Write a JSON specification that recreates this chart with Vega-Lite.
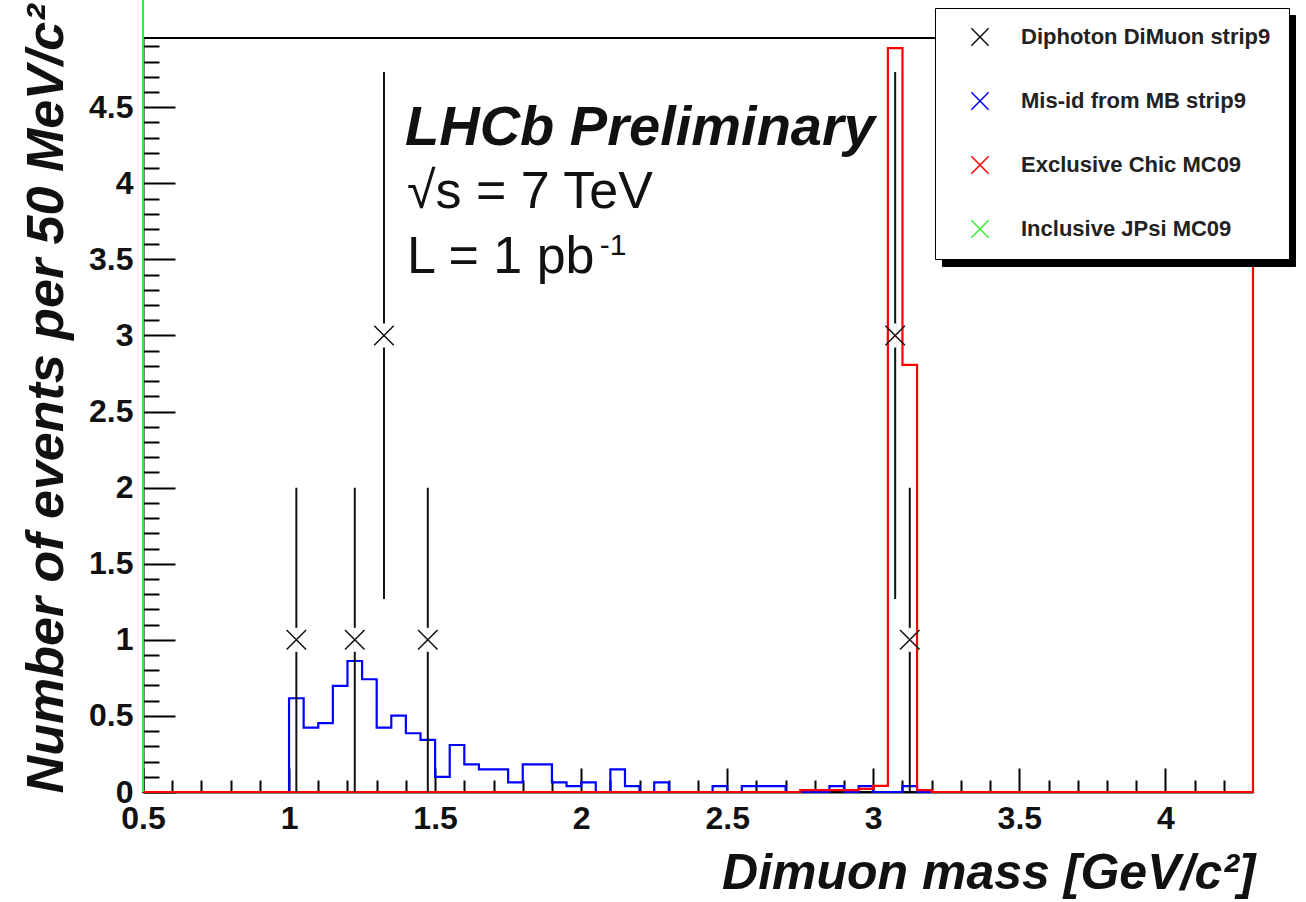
{
  "$schema": "https://vega.github.io/schema/vega-lite/v6.json",
  "width": 1110,
  "height": 754,
  "autosize": {"type": "none"},
  "padding": {"left": 143, "top": 38, "right": 53, "bottom": 110},
  "background": "white",
  "config": {
    "view": {"stroke": "black", "strokeWidth": 2},
    "axis": {
      "tickWidth": 2,
      "tickColor": "black",
      "labelFont": "Liberation Sans Narrow, Liberation Sans",
      "labelFontWeight": "bold",
      "labelFontSize": 32,
      "labelColor": "#111",
      "labelOverlap": false,
      "labelFlush": false,
      "labelBound": false,
      "domainColor": "black",
      "domainWidth": 2,
      "grid": false,
      "titleFont": "Liberation Sans",
      "titleFontWeight": "bold",
      "titleFontStyle": "italic",
      "titleColor": "#111",
      "titleAlign": "right",
      "titleBaseline": "alphabetic"
    },
    "axisX": {
      "labelPadding": 35,
      "labelBaseline": "top",
      "titleFontSize": 50,
      "titleX": 1112,
      "titleY": 96
    },
    "axisY": {
      "labelPadding": 42,
      "titleFontSize": 52,
      "titleAngle": -90,
      "titleX": -81,
      "titleY": -34
    }
  },
  "datasets": {
    "hist": [
      {"series": "Mis-id from MB strip9", "x": 0.5, "y": 0},
      {"series": "Mis-id from MB strip9", "x": 1.0, "y": 0.616},
      {"series": "Mis-id from MB strip9", "x": 1.05, "y": 0.423},
      {"series": "Mis-id from MB strip9", "x": 1.1, "y": 0.452},
      {"series": "Mis-id from MB strip9", "x": 1.15, "y": 0.697},
      {"series": "Mis-id from MB strip9", "x": 1.2, "y": 0.861},
      {"series": "Mis-id from MB strip9", "x": 1.25, "y": 0.741},
      {"series": "Mis-id from MB strip9", "x": 1.3, "y": 0.423},
      {"series": "Mis-id from MB strip9", "x": 1.35, "y": 0.502},
      {"series": "Mis-id from MB strip9", "x": 1.4, "y": 0.386},
      {"series": "Mis-id from MB strip9", "x": 1.45, "y": 0.342},
      {"series": "Mis-id from MB strip9", "x": 1.5, "y": 0.1},
      {"series": "Mis-id from MB strip9", "x": 1.55, "y": 0.309},
      {"series": "Mis-id from MB strip9", "x": 1.6, "y": 0.182},
      {"series": "Mis-id from MB strip9", "x": 1.65, "y": 0.149},
      {"series": "Mis-id from MB strip9", "x": 1.7, "y": 0.149},
      {"series": "Mis-id from MB strip9", "x": 1.75, "y": 0.063},
      {"series": "Mis-id from MB strip9", "x": 1.8, "y": 0.182},
      {"series": "Mis-id from MB strip9", "x": 1.85, "y": 0.182},
      {"series": "Mis-id from MB strip9", "x": 1.9, "y": 0.063},
      {"series": "Mis-id from MB strip9", "x": 1.95, "y": 0.038},
      {"series": "Mis-id from MB strip9", "x": 2.0, "y": 0.063},
      {"series": "Mis-id from MB strip9", "x": 2.05, "y": 0},
      {"series": "Mis-id from MB strip9", "x": 2.1, "y": 0.149},
      {"series": "Mis-id from MB strip9", "x": 2.15, "y": 0.038},
      {"series": "Mis-id from MB strip9", "x": 2.2, "y": 0},
      {"series": "Mis-id from MB strip9", "x": 2.25, "y": 0.063},
      {"series": "Mis-id from MB strip9", "x": 2.3, "y": 0},
      {"series": "Mis-id from MB strip9", "x": 2.45, "y": 0.038},
      {"series": "Mis-id from MB strip9", "x": 2.5, "y": 0},
      {"series": "Mis-id from MB strip9", "x": 2.55, "y": 0.038},
      {"series": "Mis-id from MB strip9", "x": 2.7, "y": 0},
      {"series": "Mis-id from MB strip9", "x": 2.85, "y": 0.038},
      {"series": "Mis-id from MB strip9", "x": 2.9, "y": 0},
      {"series": "Mis-id from MB strip9", "x": 2.95, "y": 0.038},
      {"series": "Mis-id from MB strip9", "x": 3.0, "y": 0},
      {"series": "Mis-id from MB strip9", "x": 3.1, "y": 0.038},
      {"series": "Mis-id from MB strip9", "x": 3.15, "y": 0},
      {"series": "Mis-id from MB strip9", "x": 4.3, "y": 0},
      {"series": "Exclusive Chic MC09", "x": 0.5, "y": 0},
      {"series": "Exclusive Chic MC09", "x": 2.75, "y": 0.012},
      {"series": "Exclusive Chic MC09", "x": 2.95, "y": 0.02},
      {"series": "Exclusive Chic MC09", "x": 3.0, "y": 0.04},
      {"series": "Exclusive Chic MC09", "x": 3.05, "y": 4.889},
      {"series": "Exclusive Chic MC09", "x": 3.1, "y": 2.807},
      {"series": "Exclusive Chic MC09", "x": 3.15, "y": 0.012},
      {"series": "Exclusive Chic MC09", "x": 3.2, "y": 0},
      {"series": "Exclusive Chic MC09", "x": 4.3, "y": 0},
      {"series": "Exclusive Chic MC09", "x": 4.3, "y": 4.955}
    ],
    "edges": [
      {"series": "Inclusive JPsi MC09", "x": 0.5, "y": 0, "y2": 5.207}
    ],
    "points": [
      {"series": "Diphoton DiMuon strip9", "x": 1.025, "y": 1, "lo": 0, "hi": 2},
      {"series": "Diphoton DiMuon strip9", "x": 1.225, "y": 1, "lo": 0, "hi": 2},
      {"series": "Diphoton DiMuon strip9", "x": 1.325, "y": 3, "lo": 1.268, "hi": 4.732},
      {"series": "Diphoton DiMuon strip9", "x": 1.475, "y": 1, "lo": 0, "hi": 2},
      {"series": "Diphoton DiMuon strip9", "x": 3.075, "y": 3, "lo": 1.268, "hi": 4.732},
      {"series": "Diphoton DiMuon strip9", "x": 3.125, "y": 1, "lo": 0, "hi": 2}
    ],
    "entries": [
      {"entry": "Diphoton DiMuon strip9"},
      {"entry": "Mis-id from MB strip9"},
      {"entry": "Exclusive Chic MC09"},
      {"entry": "Inclusive JPsi MC09"}
    ],
    "notes": [
      {"text": "LHCb Preliminary"}
    ]
  },
  "layer": [
    {
      "data": {"name": "hist"},
      "mark": {"type": "line", "interpolate": "step-after", "strokeWidth": 2.2},
      "encoding": {
        "x": {
          "field": "x", "type": "quantitative",
          "scale": {"domain": [0.5, 4.3], "nice": false, "zero": false},
          "axis": {"values": [0.5, 0.6, 0.7, 0.8, 0.9, 1, 1.1, 1.2, 1.3, 1.4, 1.5, 1.6, 1.7, 1.8, 1.9, 2, 2.1, 2.2, 2.3, 2.4, 2.5, 2.6, 2.7, 2.8, 2.9, 3, 3.1, 3.2, 3.3, 3.4, 3.5, 3.6, 3.7, 3.8, 3.9, 4, 4.1, 4.2], "tickSize": {"condition": {"test": "abs(datum.value*2 - round(datum.value*2)) < 0.001", "value": -24}, "value": -12}, "labelExpr": "abs(datum.value*2 - round(datum.value*2)) < 0.001 ? format(datum.value, '~g') : ''", "title": "Dimuon mass [GeV/c²]"}
        },
        "y": {
          "field": "y", "type": "quantitative",
          "scale": {"domain": [0, 4.955], "nice": false, "zero": false},
          "axis": {"values": [0, 0.1, 0.2, 0.3, 0.4, 0.5, 0.6, 0.7, 0.8, 0.9, 1, 1.1, 1.2, 1.3, 1.4, 1.5, 1.6, 1.7, 1.8, 1.9, 2, 2.1, 2.2, 2.3, 2.4, 2.5, 2.6, 2.7, 2.8, 2.9, 3, 3.1, 3.2, 3.3, 3.4, 3.5, 3.6, 3.7, 3.8, 3.9, 4, 4.1, 4.2, 4.3, 4.4, 4.5, 4.6, 4.7, 4.8, 4.9], "tickSize": {"condition": {"test": "abs(datum.value*2 - round(datum.value*2)) < 0.001", "value": -32}, "value": -16}, "labelExpr": "abs(datum.value*2 - round(datum.value*2)) < 0.001 ? format(datum.value, '~g') : ''", "title": "Number of events per 50 MeV/c²"}
        },
        "color": {
          "field": "series",
          "type": "nominal",
          "scale": {
            "domain": ["Diphoton DiMuon strip9", "Mis-id from MB strip9", "Exclusive Chic MC09", "Inclusive JPsi MC09"],
            "range": ["#111111", "#0000ff", "#ff0000", "#33ee33"]
          },
          "legend": {
            "orient": "none",
            "legendX": 792,
            "legendY": -30,
            "title": null,
            "fillColor": "white",
            "strokeColor": "black",
            "padding": 18,
            "rowPadding": 40,
            "labelFont": "Liberation Sans",
            "labelFontWeight": "bold",
            "labelFontSize": 22,
            "labelColor": "#222",
            "labelLimit": 400,
            "symbolType": "M -1 -1 L 1 1 M -1 1 L 1 -1",
            "symbolSize": 300,
            "symbolStrokeWidth": 1.5,
            "symbolFillColor": "transparent",
            "symbolOffset": 16,
            "labelOffset": 30,
            "zindex": 2
          }
        },
        "detail": {"field": "series", "type": "nominal"}
      }
    },
    {
      "data": {"name": "edges"},
      "mark": {"type": "rule", "strokeWidth": 2},
      "encoding": {
        "x": {"field": "x", "type": "quantitative", "axis": {"values": [0.5, 0.6, 0.7, 0.8, 0.9, 1, 1.1, 1.2, 1.3, 1.4, 1.5, 1.6, 1.7, 1.8, 1.9, 2, 2.1, 2.2, 2.3, 2.4, 2.5, 2.6, 2.7, 2.8, 2.9, 3, 3.1, 3.2, 3.3, 3.4, 3.5, 3.6, 3.7, 3.8, 3.9, 4, 4.1, 4.2], "tickSize": {"condition": {"test": "abs(datum.value*2 - round(datum.value*2)) < 0.001", "value": -24}, "value": -12}, "labelExpr": "abs(datum.value*2 - round(datum.value*2)) < 0.001 ? format(datum.value, '~g') : ''", "title": "Dimuon mass [GeV/c²]"}},
        "y": {"field": "y", "type": "quantitative", "axis": {"values": [0, 0.1, 0.2, 0.3, 0.4, 0.5, 0.6, 0.7, 0.8, 0.9, 1, 1.1, 1.2, 1.3, 1.4, 1.5, 1.6, 1.7, 1.8, 1.9, 2, 2.1, 2.2, 2.3, 2.4, 2.5, 2.6, 2.7, 2.8, 2.9, 3, 3.1, 3.2, 3.3, 3.4, 3.5, 3.6, 3.7, 3.8, 3.9, 4, 4.1, 4.2, 4.3, 4.4, 4.5, 4.6, 4.7, 4.8, 4.9], "tickSize": {"condition": {"test": "abs(datum.value*2 - round(datum.value*2)) < 0.001", "value": -32}, "value": -16}, "labelExpr": "abs(datum.value*2 - round(datum.value*2)) < 0.001 ? format(datum.value, '~g') : ''", "title": "Number of events per 50 MeV/c²"}},
        "y2": {"field": "y2"},
        "color": {"field": "series", "type": "nominal"}
      }
    },
    {
      "data": {"name": "points"},
      "mark": {"type": "rule", "strokeWidth": 2},
      "encoding": {
        "x": {"field": "x", "type": "quantitative", "axis": {"values": [0.5, 0.6, 0.7, 0.8, 0.9, 1, 1.1, 1.2, 1.3, 1.4, 1.5, 1.6, 1.7, 1.8, 1.9, 2, 2.1, 2.2, 2.3, 2.4, 2.5, 2.6, 2.7, 2.8, 2.9, 3, 3.1, 3.2, 3.3, 3.4, 3.5, 3.6, 3.7, 3.8, 3.9, 4, 4.1, 4.2], "tickSize": {"condition": {"test": "abs(datum.value*2 - round(datum.value*2)) < 0.001", "value": -24}, "value": -12}, "labelExpr": "abs(datum.value*2 - round(datum.value*2)) < 0.001 ? format(datum.value, '~g') : ''", "title": "Dimuon mass [GeV/c²]"}},
        "y": {"field": "lo", "type": "quantitative", "axis": {"values": [0, 0.1, 0.2, 0.3, 0.4, 0.5, 0.6, 0.7, 0.8, 0.9, 1, 1.1, 1.2, 1.3, 1.4, 1.5, 1.6, 1.7, 1.8, 1.9, 2, 2.1, 2.2, 2.3, 2.4, 2.5, 2.6, 2.7, 2.8, 2.9, 3, 3.1, 3.2, 3.3, 3.4, 3.5, 3.6, 3.7, 3.8, 3.9, 4, 4.1, 4.2, 4.3, 4.4, 4.5, 4.6, 4.7, 4.8, 4.9], "tickSize": {"condition": {"test": "abs(datum.value*2 - round(datum.value*2)) < 0.001", "value": -32}, "value": -16}, "labelExpr": "abs(datum.value*2 - round(datum.value*2)) < 0.001 ? format(datum.value, '~g') : ''", "title": "Number of events per 50 MeV/c²"}},
        "y2": {"field": "hi"},
        "color": {"field": "series", "type": "nominal"}
      }
    },
    {
      "data": {"name": "points"},
      "mark": {"type": "point", "shape": "M -0.12 -1 L 0.12 -1 L 0.12 1 L -0.12 1 Z", "filled": true, "fill": "white", "opacity": 1, "size": 576, "strokeWidth": 0},
      "encoding": {
        "x": {"field": "x", "type": "quantitative", "axis": {"values": [0.5, 0.6, 0.7, 0.8, 0.9, 1, 1.1, 1.2, 1.3, 1.4, 1.5, 1.6, 1.7, 1.8, 1.9, 2, 2.1, 2.2, 2.3, 2.4, 2.5, 2.6, 2.7, 2.8, 2.9, 3, 3.1, 3.2, 3.3, 3.4, 3.5, 3.6, 3.7, 3.8, 3.9, 4, 4.1, 4.2], "tickSize": {"condition": {"test": "abs(datum.value*2 - round(datum.value*2)) < 0.001", "value": -24}, "value": -12}, "labelExpr": "abs(datum.value*2 - round(datum.value*2)) < 0.001 ? format(datum.value, '~g') : ''", "title": "Dimuon mass [GeV/c²]"}},
        "y": {"field": "y", "type": "quantitative", "axis": {"values": [0, 0.1, 0.2, 0.3, 0.4, 0.5, 0.6, 0.7, 0.8, 0.9, 1, 1.1, 1.2, 1.3, 1.4, 1.5, 1.6, 1.7, 1.8, 1.9, 2, 2.1, 2.2, 2.3, 2.4, 2.5, 2.6, 2.7, 2.8, 2.9, 3, 3.1, 3.2, 3.3, 3.4, 3.5, 3.6, 3.7, 3.8, 3.9, 4, 4.1, 4.2, 4.3, 4.4, 4.5, 4.6, 4.7, 4.8, 4.9], "tickSize": {"condition": {"test": "abs(datum.value*2 - round(datum.value*2)) < 0.001", "value": -32}, "value": -16}, "labelExpr": "abs(datum.value*2 - round(datum.value*2)) < 0.001 ? format(datum.value, '~g') : ''", "title": "Number of events per 50 MeV/c²"}}
      }
    },
    {
      "data": {"name": "points"},
      "mark": {"type": "point", "shape": "M -1 -1 L 1 1 M -1 1 L 1 -1", "filled": false, "size": 380, "strokeWidth": 1.5, "opacity": 1},
      "encoding": {
        "x": {"field": "x", "type": "quantitative", "axis": {"values": [0.5, 0.6, 0.7, 0.8, 0.9, 1, 1.1, 1.2, 1.3, 1.4, 1.5, 1.6, 1.7, 1.8, 1.9, 2, 2.1, 2.2, 2.3, 2.4, 2.5, 2.6, 2.7, 2.8, 2.9, 3, 3.1, 3.2, 3.3, 3.4, 3.5, 3.6, 3.7, 3.8, 3.9, 4, 4.1, 4.2], "tickSize": {"condition": {"test": "abs(datum.value*2 - round(datum.value*2)) < 0.001", "value": -24}, "value": -12}, "labelExpr": "abs(datum.value*2 - round(datum.value*2)) < 0.001 ? format(datum.value, '~g') : ''", "title": "Dimuon mass [GeV/c²]"}},
        "y": {"field": "y", "type": "quantitative", "axis": {"values": [0, 0.1, 0.2, 0.3, 0.4, 0.5, 0.6, 0.7, 0.8, 0.9, 1, 1.1, 1.2, 1.3, 1.4, 1.5, 1.6, 1.7, 1.8, 1.9, 2, 2.1, 2.2, 2.3, 2.4, 2.5, 2.6, 2.7, 2.8, 2.9, 3, 3.1, 3.2, 3.3, 3.4, 3.5, 3.6, 3.7, 3.8, 3.9, 4, 4.1, 4.2, 4.3, 4.4, 4.5, 4.6, 4.7, 4.8, 4.9], "tickSize": {"condition": {"test": "abs(datum.value*2 - round(datum.value*2)) < 0.001", "value": -32}, "value": -16}, "labelExpr": "abs(datum.value*2 - round(datum.value*2)) < 0.001 ? format(datum.value, '~g') : ''", "title": "Number of events per 50 MeV/c²"}},
        "color": {"field": "series", "type": "nominal"}
      }
    },
    {
      "data": {"name": "entries"},
      "mark": {"type": "square", "filled": true, "opacity": 0, "size": 1},
      "encoding": {
        "x": {"datum": 0.5, "type": "quantitative", "axis": {"values": [0.5, 0.6, 0.7, 0.8, 0.9, 1, 1.1, 1.2, 1.3, 1.4, 1.5, 1.6, 1.7, 1.8, 1.9, 2, 2.1, 2.2, 2.3, 2.4, 2.5, 2.6, 2.7, 2.8, 2.9, 3, 3.1, 3.2, 3.3, 3.4, 3.5, 3.6, 3.7, 3.8, 3.9, 4, 4.1, 4.2], "tickSize": {"condition": {"test": "abs(datum.value*2 - round(datum.value*2)) < 0.001", "value": -24}, "value": -12}, "labelExpr": "abs(datum.value*2 - round(datum.value*2)) < 0.001 ? format(datum.value, '~g') : ''", "title": "Dimuon mass [GeV/c²]"}},
        "y": {"datum": 0, "type": "quantitative", "axis": {"values": [0, 0.1, 0.2, 0.3, 0.4, 0.5, 0.6, 0.7, 0.8, 0.9, 1, 1.1, 1.2, 1.3, 1.4, 1.5, 1.6, 1.7, 1.8, 1.9, 2, 2.1, 2.2, 2.3, 2.4, 2.5, 2.6, 2.7, 2.8, 2.9, 3, 3.1, 3.2, 3.3, 3.4, 3.5, 3.6, 3.7, 3.8, 3.9, 4, 4.1, 4.2, 4.3, 4.4, 4.5, 4.6, 4.7, 4.8, 4.9], "tickSize": {"condition": {"test": "abs(datum.value*2 - round(datum.value*2)) < 0.001", "value": -32}, "value": -16}, "labelExpr": "abs(datum.value*2 - round(datum.value*2)) < 0.001 ? format(datum.value, '~g') : ''", "title": "Number of events per 50 MeV/c²"}},
        "fill": {
          "field": "entry",
          "type": "nominal",
          "scale": {"range": ["black"]},
          "legend": {
            "orient": "none",
            "legendX": 799,
            "legendY": -23,
            "title": null,
            "fillColor": "black",
            "strokeColor": "black",
            "padding": 18,
            "rowPadding": 40,
            "labelFont": "Liberation Sans",
            "labelFontWeight": "bold",
            "labelFontSize": 22,
            "labelColor": "black",
            "labelLimit": 400,
            "labelExpr": "'\u00a0'",
            "symbolType": "square",
            "symbolSize": 300,
            "symbolFillColor": "black",
            "symbolStrokeColor": "black",
            "symbolOffset": 16,
            "labelOffset": 279,
            "zindex": 1
          }
        }
      }
    },
    {
      "data": {"name": "notes"},
      "mark": {"type": "text", "text": "LHCb Preliminary", "font": "Liberation Sans", "fontWeight": "bold", "fontStyle": "italic", "fontSize": 56, "align": "left", "baseline": "alphabetic", "color": "#111"},
      "encoding": {
        "x": {"datum": 1.397, "type": "quantitative", "axis": {"values": [0.5, 0.6, 0.7, 0.8, 0.9, 1, 1.1, 1.2, 1.3, 1.4, 1.5, 1.6, 1.7, 1.8, 1.9, 2, 2.1, 2.2, 2.3, 2.4, 2.5, 2.6, 2.7, 2.8, 2.9, 3, 3.1, 3.2, 3.3, 3.4, 3.5, 3.6, 3.7, 3.8, 3.9, 4, 4.1, 4.2], "tickSize": {"condition": {"test": "abs(datum.value*2 - round(datum.value*2)) < 0.001", "value": -24}, "value": -12}, "labelExpr": "abs(datum.value*2 - round(datum.value*2)) < 0.001 ? format(datum.value, '~g') : ''", "title": "Dimuon mass [GeV/c²]"}},
        "y": {"datum": 4.254, "type": "quantitative", "axis": {"values": [0, 0.1, 0.2, 0.3, 0.4, 0.5, 0.6, 0.7, 0.8, 0.9, 1, 1.1, 1.2, 1.3, 1.4, 1.5, 1.6, 1.7, 1.8, 1.9, 2, 2.1, 2.2, 2.3, 2.4, 2.5, 2.6, 2.7, 2.8, 2.9, 3, 3.1, 3.2, 3.3, 3.4, 3.5, 3.6, 3.7, 3.8, 3.9, 4, 4.1, 4.2, 4.3, 4.4, 4.5, 4.6, 4.7, 4.8, 4.9], "tickSize": {"condition": {"test": "abs(datum.value*2 - round(datum.value*2)) < 0.001", "value": -32}, "value": -16}, "labelExpr": "abs(datum.value*2 - round(datum.value*2)) < 0.001 ? format(datum.value, '~g') : ''", "title": "Number of events per 50 MeV/c²"}}
      }
    },
    {
      "data": {"name": "notes"},
      "mark": {"type": "text", "text": "√s = 7 TeV", "font": "Liberation Sans", "fontSize": 52, "align": "left", "baseline": "alphabetic", "color": "#111"},
      "encoding": {
        "x": {"datum": 1.404, "type": "quantitative", "axis": {"values": [0.5, 0.6, 0.7, 0.8, 0.9, 1, 1.1, 1.2, 1.3, 1.4, 1.5, 1.6, 1.7, 1.8, 1.9, 2, 2.1, 2.2, 2.3, 2.4, 2.5, 2.6, 2.7, 2.8, 2.9, 3, 3.1, 3.2, 3.3, 3.4, 3.5, 3.6, 3.7, 3.8, 3.9, 4, 4.1, 4.2], "tickSize": {"condition": {"test": "abs(datum.value*2 - round(datum.value*2)) < 0.001", "value": -24}, "value": -12}, "labelExpr": "abs(datum.value*2 - round(datum.value*2)) < 0.001 ? format(datum.value, '~g') : ''", "title": "Dimuon mass [GeV/c²]"}},
        "y": {"datum": 3.84, "type": "quantitative", "axis": {"values": [0, 0.1, 0.2, 0.3, 0.4, 0.5, 0.6, 0.7, 0.8, 0.9, 1, 1.1, 1.2, 1.3, 1.4, 1.5, 1.6, 1.7, 1.8, 1.9, 2, 2.1, 2.2, 2.3, 2.4, 2.5, 2.6, 2.7, 2.8, 2.9, 3, 3.1, 3.2, 3.3, 3.4, 3.5, 3.6, 3.7, 3.8, 3.9, 4, 4.1, 4.2, 4.3, 4.4, 4.5, 4.6, 4.7, 4.8, 4.9], "tickSize": {"condition": {"test": "abs(datum.value*2 - round(datum.value*2)) < 0.001", "value": -32}, "value": -16}, "labelExpr": "abs(datum.value*2 - round(datum.value*2)) < 0.001 ? format(datum.value, '~g') : ''", "title": "Number of events per 50 MeV/c²"}}
      }
    },
    {
      "data": {"name": "notes"},
      "mark": {"type": "text", "text": "L = 1 pb", "font": "Liberation Sans", "fontSize": 52, "align": "left", "baseline": "alphabetic", "color": "#111"},
      "encoding": {
        "x": {"datum": 1.404, "type": "quantitative", "axis": {"values": [0.5, 0.6, 0.7, 0.8, 0.9, 1, 1.1, 1.2, 1.3, 1.4, 1.5, 1.6, 1.7, 1.8, 1.9, 2, 2.1, 2.2, 2.3, 2.4, 2.5, 2.6, 2.7, 2.8, 2.9, 3, 3.1, 3.2, 3.3, 3.4, 3.5, 3.6, 3.7, 3.8, 3.9, 4, 4.1, 4.2], "tickSize": {"condition": {"test": "abs(datum.value*2 - round(datum.value*2)) < 0.001", "value": -24}, "value": -12}, "labelExpr": "abs(datum.value*2 - round(datum.value*2)) < 0.001 ? format(datum.value, '~g') : ''", "title": "Dimuon mass [GeV/c²]"}},
        "y": {"datum": 3.41, "type": "quantitative", "axis": {"values": [0, 0.1, 0.2, 0.3, 0.4, 0.5, 0.6, 0.7, 0.8, 0.9, 1, 1.1, 1.2, 1.3, 1.4, 1.5, 1.6, 1.7, 1.8, 1.9, 2, 2.1, 2.2, 2.3, 2.4, 2.5, 2.6, 2.7, 2.8, 2.9, 3, 3.1, 3.2, 3.3, 3.4, 3.5, 3.6, 3.7, 3.8, 3.9, 4, 4.1, 4.2, 4.3, 4.4, 4.5, 4.6, 4.7, 4.8, 4.9], "tickSize": {"condition": {"test": "abs(datum.value*2 - round(datum.value*2)) < 0.001", "value": -32}, "value": -16}, "labelExpr": "abs(datum.value*2 - round(datum.value*2)) < 0.001 ? format(datum.value, '~g') : ''", "title": "Number of events per 50 MeV/c²"}}
      }
    },
    {
      "data": {"name": "notes"},
      "mark": {"type": "text", "text": "-1", "font": "Liberation Sans", "fontSize": 30, "align": "left", "baseline": "alphabetic", "color": "#111"},
      "encoding": {
        "x": {"datum": 2.064, "type": "quantitative", "axis": {"values": [0.5, 0.6, 0.7, 0.8, 0.9, 1, 1.1, 1.2, 1.3, 1.4, 1.5, 1.6, 1.7, 1.8, 1.9, 2, 2.1, 2.2, 2.3, 2.4, 2.5, 2.6, 2.7, 2.8, 2.9, 3, 3.1, 3.2, 3.3, 3.4, 3.5, 3.6, 3.7, 3.8, 3.9, 4, 4.1, 4.2], "tickSize": {"condition": {"test": "abs(datum.value*2 - round(datum.value*2)) < 0.001", "value": -24}, "value": -12}, "labelExpr": "abs(datum.value*2 - round(datum.value*2)) < 0.001 ? format(datum.value, '~g') : ''", "title": "Dimuon mass [GeV/c²]"}},
        "y": {"datum": 3.53, "type": "quantitative", "axis": {"values": [0, 0.1, 0.2, 0.3, 0.4, 0.5, 0.6, 0.7, 0.8, 0.9, 1, 1.1, 1.2, 1.3, 1.4, 1.5, 1.6, 1.7, 1.8, 1.9, 2, 2.1, 2.2, 2.3, 2.4, 2.5, 2.6, 2.7, 2.8, 2.9, 3, 3.1, 3.2, 3.3, 3.4, 3.5, 3.6, 3.7, 3.8, 3.9, 4, 4.1, 4.2, 4.3, 4.4, 4.5, 4.6, 4.7, 4.8, 4.9], "tickSize": {"condition": {"test": "abs(datum.value*2 - round(datum.value*2)) < 0.001", "value": -32}, "value": -16}, "labelExpr": "abs(datum.value*2 - round(datum.value*2)) < 0.001 ? format(datum.value, '~g') : ''", "title": "Number of events per 50 MeV/c²"}}
      }
    }
  ]
}
